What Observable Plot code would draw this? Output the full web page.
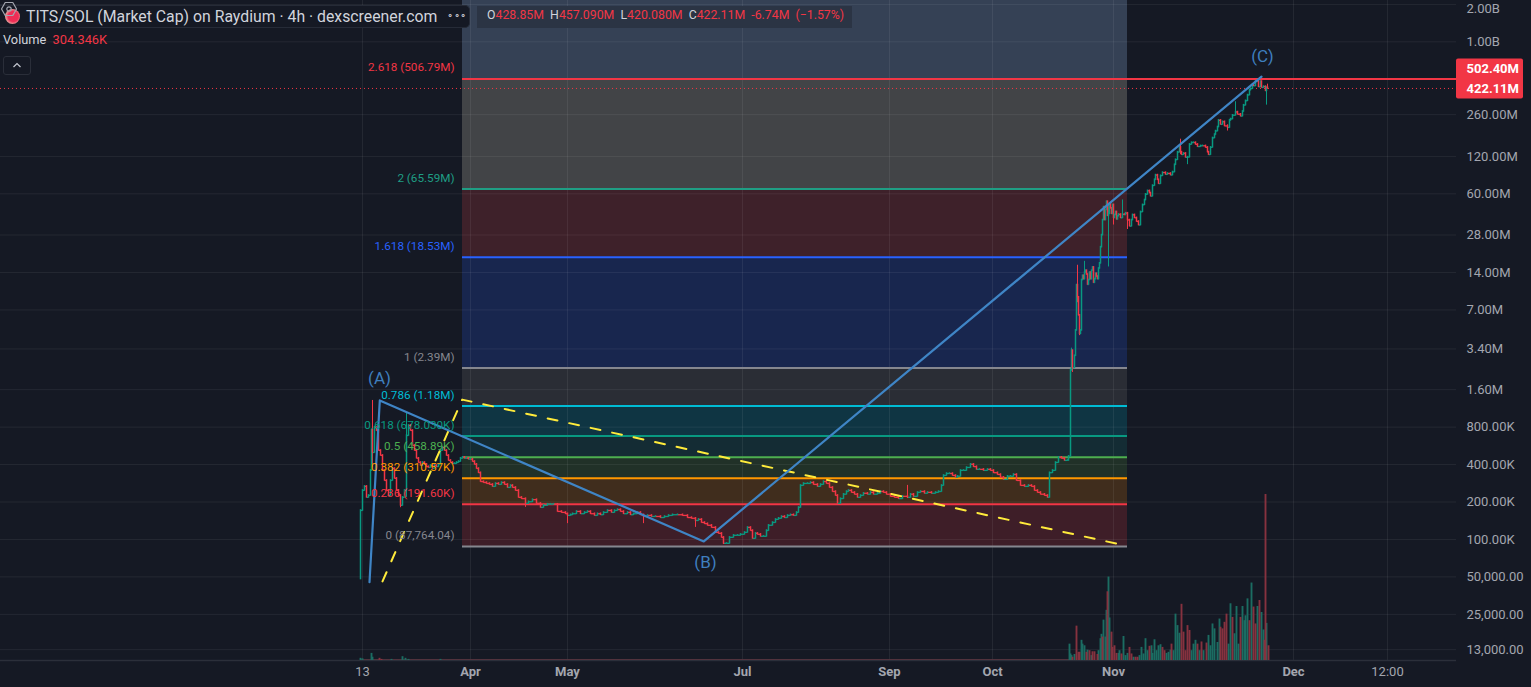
<!DOCTYPE html>
<html>
<head>
<meta charset="utf-8">
<script src="https://cdn.jsdelivr.net/npm/d3@7"></script>
<script src="https://cdn.jsdelivr.net/npm/@observablehq/plot@0.6"></script>
<style>
html,body{margin:0;padding:0;background:#151924;overflow:hidden}
#stage{position:relative;width:1531px;height:687px;font-family:Roboto,"Noto Sans",sans-serif;overflow:hidden}
#stage>svg{position:absolute;left:0;top:0}
.box{position:absolute;box-sizing:border-box;white-space:nowrap;font-size:15.8px}
#titleBox{left:0;top:5px;width:470px;height:23px;background:#151924;border:1px solid #262b37;border-left:0;border-radius:0 5px 5px 0;color:#d1d4dc;padding:1px 0 0 26px}
#icon{position:absolute;left:5px;top:3px;width:15px;height:15px;border-radius:50%;background:radial-gradient(circle at 55% 50%,#ef2d56 45%,#e9b7a8 75%)}
#dots{position:absolute;left:447px;top:3px;font-size:10px;letter-spacing:0.5px;color:#d1d4dc}
#ohlc{left:477px;top:6px;width:375px;height:22px;background:#2b3444;color:#d1d4dc;padding:2px 0 0 10px;font-size:12.3px}
#ohlc b{font-weight:400;color:#f23645}
#vol{left:3px;top:32px;color:#d1d4dc;font-size:12.8px}
#vol b{font-weight:400;color:#f23645;margin-left:3px}
#chev{left:3px;top:56px;width:28px;height:19px;border:1px solid #2a2e39;border-radius:3px;background:#151924}
#gear{position:absolute;left:1489px;top:668px}
</style>
</head>
<body>
<div id="stage">
  <div class="box" id="titleBox"><span id="icon"></span>TITS/SOL (Market Cap) on Raydium · 4h · dexscreener.com<span id="dots">∘∘∘</span></div>
  <div class="box" id="ohlc">O<b>428.85M</b> &nbsp;H<b>457.090M</b> &nbsp;L<b>420.080M</b> &nbsp;C<b>422.11M</b> &nbsp;<b>-6.74M</b> &nbsp;<b>(−1.57%)</b></div>
  <div class="box" id="vol">Volume <b>304.346K</b></div>
  <div class="box" id="chev"><svg width="26" height="17"><path d="M9.5 10 L13 6.5 L16.5 10" fill="none" stroke="#c4c7d0" stroke-width="1.2"/></svg></div>
  <svg id="gear" width="18" height="18"><path d="M9 1.5 L15.5 5.2 V12.8 L9 16.5 L2.5 12.8 V5.2 Z" fill="none" stroke="#a3a6af" stroke-width="1.2" stroke-linejoin="round" transform="rotate(90 9 9)"/><circle cx="9" cy="9" r="2.2" fill="none" stroke="#a3a6af" stroke-width="1.2"/></svg>
</div>
<script>
// ---- axis ticks
const priceTicks = [2e9,1e9,260e6,120e6,60e6,28e6,14e6,7e6,3.4e6,1.6e6,800e3,400e3,200e3,100e3,50e3,25e3,13e3];
const priceTickLabels = ["2.00B","1.00B","260.00M","120.00M","60.00M","28.00M","14.00M","7.00M","3.40M","1.60M","800.00K","400.00K","200.00K","100.00K","50,000.00","25,000.00","13,000.00"];
const monthTickBars = [470,567,742,889,992,1113,1293];
const monthTickLabels = ["Apr","May","Jul","Sep","Oct","Nov","Dec"];
const timeTickBars = [362,1387];
const timeTickLabels = ["13","12:00"];

// ---- Fibonacci levels
const fibRatios = ["2.618","2","1.618","1","0.786","0.618","0.5","0.382","0.236","0"];
const fibValues = [506.79e6,65.59e6,18.53e6,2.39e6,1.18e6,678030,458890,310570,191600,87764.04];
const fibValueText = ["506.79M","65.59M","18.53M","2.39M","1.18M","678.030K","458.89K","310.57K","191.60K","87,764.04"];
const fibColors = ["#f23645","#1f9e84","#2962ff","#85878f","#00bcd4","#089981","#4caf50","#ff9800","#f23645","#85878f"];
const fibZoneFills = ["#354155","#424447","#3e212a","#18264e","#2a2d35","#0f3543","#142c34","#213128","#402d1d","#3e1e28"];

// ---- candles: [bar number, close in thousands]
const launchCandles = [[360,171],[362,248],[364,267],[366,218],[368,226],[370,359],[371,760],[372,500],[374,800],[376,750],[378,520],[380,474],[382,359],[384,298],[386,248],[388,226],[390,298],[392,372],[394,310],[396,248],[398,226],[400,188],[402,218],[404,248],[406,685],[408,825],[410,752],[412,570],[414,520],[416,450],[418,416],[420,394],[422,416],[424,402],[426,385],[428,379],[430,394],[432,372],[434,394],[436,385],[438,402],[440,520],[442,548],[444,520],[446,474],[448,432],[450,416],[452,408],[454,408],[456,416],[458,424],[460,450],[462,458],[464,450],[466,450],[468,442],[470,442]];
const springCandles = [[472,424],[474,402],[476,372],[478,344],[480,292],[483,287],[486,282],[489,277],[492,267],[495,282],[498,277],[501,287],[504,277],[507,262],[510,272],[512,262],[515,248],[518,218],[521,213],[525,195],[528,201],[532,209],[536,195],[540,181],[543,188],[547,192],[550,192],[553,192],[557,168],[561,165],[565,161],[567,156],[570,158],[572,161],[576,168],[580,161],[584,165],[587,168],[590,161],[594,156],[597,161],[600,158],[603,165],[607,171],[611,165],[614,171],[617,174],[620,168],[623,161],[627,165],[630,158],[633,161],[637,165],[640,158],[643,153],[647,156],[651,153],[655,153],[660,150],[664,153],[668,156],[672,158],[677,158],[682,156],[687,150],[691,148],[695,142],[698,145],[701,137],[704,134],[707,130],[711,125],[715,114],[718,112],[721,104],[723,93],[726,93],[729,104]];
const summerCandles = [[733,108],[737,108],[740,110],[744,114],[747,125],[750,118],[752,102],[755,112],[757,110],[760,106],[763,106],[766,118],[768,130],[772,137],[775,145],[778,148],[781,153],[784,150],[787,156],[790,158],[793,156],[796,165],[798,181],[800,272],[803,282],[807,282],[810,287],[813,277],[817,267],[820,277],[823,292],[826,282],[829,262],[832,243],[835,226],[837,195],[840,213],[843,231],[846,243],[848,248],[851,239],[854,231],[857,218],[860,226],[863,235],[867,231],[870,239],[873,231],[877,235],[880,243],[883,239],[886,231],[890,222],[894,218],[898,213],[902,222],[907,218],[910,231],[913,222],[917,239],[920,243],[924,235],[927,239],[931,235],[935,239],[938,243],[941,272],[943,327],[946,339],[949,339],[952,327],[955,316],[957,322],[960,359],[963,359],[966,379],[970,402],[973,385],[976,366],[979,366],[983,359],[987,366],[990,359],[993,344],[997,333],[1000,316],[1003,304],[1007,322],[1010,322],[1013,333],[1016,298],[1020,272],[1024,267],[1028,272],[1031,267],[1034,248],[1037,239],[1040,231],[1044,226],[1047,218]];
const breakoutCandles = [[1049,344],[1052,359],[1055,416],[1058,458],[1061,450],[1064,432],[1067,432],[1068,466],[1070,2290],[1071,3300],[1072,2400],[1074,3000],[1075,4800],[1076,11100],[1077,8850],[1078,6350],[1079,4500],[1080,4800],[1081,12200],[1082,13200],[1083,12400],[1084,14000],[1085,14500],[1086,13500],[1087,11200],[1088,12200],[1089,14000],[1090,12400],[1091,14500],[1092,15400],[1093,11600],[1094,12400],[1095,13700],[1096,13000],[1097,12400],[1098,15100],[1099,16600],[1100,22400],[1101,28000],[1102,37000],[1103,47000],[1104,37000],[1105,44700],[1106,52000],[1107,40000],[1108,41500],[1109,50000],[1110,46000],[1111,41500],[1112,49000],[1113,38500],[1114,40700],[1115,43000],[1116,37500],[1117,39800],[1118,41000],[1120,38500],[1122,41000],[1124,40700],[1125,42000],[1127,37000],[1129,33000],[1131,37000],[1132,40700],[1134,38500],[1136,36000],[1138,33700]];
const rallyCandles = [[1140,43000],[1142,49000],[1144,53600],[1145,59500],[1147,63500],[1149,61000],[1150,57500],[1152,70000],[1154,78000],[1155,85000],[1157,78000],[1158,72500],[1160,84000],[1162,89000],[1165,86000],[1167,87500],[1170,85000],[1172,90000],[1174,103000],[1175,113000],[1177,130000],[1179,142000],[1180,130000],[1181,124000],[1183,127000],[1185,118000],[1187,118500],[1189,150000],[1191,155000],[1193,155000],[1195,150000],[1197,144000],[1200,146000],[1202,146000],[1205,142000],[1207,130000],[1208,124000],[1210,142000],[1212,169000],[1214,180000],[1215,192000],[1217,207000],[1218,234000],[1220,217000],[1222,228000],[1224,211000],[1227,205000],[1229,234000],[1230,240000],[1232,257000],[1235,273000],[1237,262000],[1240,253000],[1242,276000],[1243,310000],[1245,336000],[1247,374000],[1249,410000],[1250,421000],[1252,452000],[1253,443000],[1255,480000],[1257,489000],[1258,435000],[1260,480000],[1261,430000],[1263,437000],[1265,404000],[1266,428850],[1267,422110]];
const firstOpen = 48;

// ---- wicks: [bar number, high, low] in thousands
const candleWicks = [[372,1310,380],[400,218,180],[406,1050,218],[525,213,181],[567,161,134],[643,158,134],[695,148,125],[723,104,91],[907,272,213],[1071,3450,2290],[1072,3300,2200],[1077,16000,8000],[1079,6350,4350],[1084,17200,12400],[1108,50000,15500],[1113,49000,33700],[1122,53600,38500],[1127,42000,31000],[1180,165000,124000],[1187,118500,103000],[1227,215000,192000],[1235,330000,257000],[1266,430000,310000],[1267,457090,420080]];

// ---- volume: [bar number, volume in thousands]
const volumeUp = [[360,4],[362,3],[371,13],[372,6],[391,2],[402,7],[405,4],[408,2],[440,2],[1069,30],[1070,12],[1071,9],[1074,11],[1081,37],[1082,30],[1084,27],[1087,19],[1091,9],[1098,18],[1100,40],[1101,48],[1103,74],[1105,43],[1106,92],[1108,153],[1109,78],[1118,13],[1119,18],[1123,44],[1125,9],[1127,13],[1133,6],[1139,9],[1141,24],[1143,12],[1145,40],[1147,18],[1151,27],[1152,13],[1154,38],[1156,18],[1158,27],[1160,29],[1166,13],[1168,15],[1170,19],[1173,18],[1175,85],[1177,64],[1179,50],[1191,18],[1193,30],[1195,37],[1199,18],[1203,18],[1208,46],[1210,27],[1212,67],[1214,58],[1217,33],[1219,76],[1228,30],[1230,104],[1234,49],[1236,99],[1238,30],[1242,99],[1244,73],[1245,82],[1247,113],[1251,142],[1257,99],[1261,88],[1263,56],[1266,68]];
const volumeDown = [[379,4],[381,2],[1072,6],[1076,63],[1078,15],[1079,15],[1086,15],[1089,18],[1092,16],[1094,16],[1097,11],[1102,43],[1107,126],[1111,52],[1112,24],[1114,27],[1116,13],[1121,12],[1129,24],[1131,12],[1135,6],[1137,6],[1149,26],[1162,24],[1164,18],[1171,30],[1181,103],[1183,52],[1185,18],[1187,64],[1189,55],[1197,30],[1201,34],[1206,32],[1220,61],[1222,58],[1224,70],[1226,85],[1232,79],[1240,79],[1249,73],[1253,98],[1255,67],[1259,110],[1264,37],[1265,304.346],[1268,27]];
const quietVolumeBars = [360,1069];
const quietVolume = 1.6;

// ---- drawings
const waveBars = [369,379.3,703.3,1261];
const waveCaps = [45300,1310000,96400,525700000];
const trendBars = [382,461.7,1116.7];
const trendCaps = [46000,1331000,92300];
const waveLabels = ["(A)","(B)","(C)"];
const waveLabelBars = [379,705,1262];
const waveLabelCaps = [1977000,65300,758000000];
const lastPrice = 422110000;
const lastVolume = 304346;
const topLine = 502400000;

// ---- tables
const GREEN="#089981", RED="#f23645";
const closes=[...launchCandles,...springCandles,...summerCandles,...breakoutCandles,...rallyCandles];
const candles=closes.map(([bar,c],i)=>{
  const open=(i?closes[i-1][1]:firstOpen)*1e3, close=c*1e3;
  return {bar,prevBar:i?closes[i-1][0]:bar,open,close,color:close>=open?GREEN:RED};
});
const colorByBar=new Map(candles.map(d=>[d.bar,d.color]));
const wicks=candleWicks.map(([bar,h,l])=>({bar,high:h*1e3,low:l*1e3,color:colorByBar.get(bar)||RED}));
const fib=fibRatios.map((r,i)=>({r,v:fibValues[i],label:`${r} (${fibValueText[i]})`,color:fibColors[i]}));
const yMax=2.15e9,yMin=10640;
const zones=fibZoneFills.map((fill,i)=>({fill,y2:i?fibValues[i-1]:yMax,y1:fibValues[i]}));
const wave=waveBars.map((x,i)=>({x,y:waveCaps[i]}));
const trend=trendBars.map((x,i)=>({x,y:trendCaps[i]}));
const labelsABC=waveLabels.map((t,i)=>({t,x:waveLabelBars[i],y:waveLabelCaps[i]}));
const priceTickRows=priceTicks.map((v,i)=>({v,label:priceTickLabels[i]}));
const monthRows=monthTickBars.map((x,i)=>({x,label:monthTickLabels[i]}));
const timeRows=timeTickBars.map((x,i)=>({x,label:timeTickLabels[i]}));
const allX=[...monthTickBars,...timeTickBars];
const ZONE_X1=462, ZONE_X2=1127, FRAME=1456, TICK_TEXT_X=1466;
const FONT='Roboto,"Noto Sans",sans-serif';

const price=Plot.plot({
  width:1531,height:687,marginLeft:0,marginRight:75,marginTop:0,marginBottom:27,
  style:{background:"transparent",fontFamily:FONT},
  x:{type:"linear",domain:[0,FRAME],axis:null},
  y:{type:"log",domain:[yMin,yMax],range:[660,0],axis:null},
  marks:[
    Plot.rect(zones,{x1:ZONE_X1,x2:ZONE_X2,y1:"y1",y2:"y2",fill:d=>d.fill}),
    Plot.gridY(priceTicks,{stroke:"#fff",strokeOpacity:0.065}),
    Plot.gridX(allX,{stroke:"#fff",strokeOpacity:0.065}),
    Plot.ruleY([yMin],{stroke:"#2b2f3a",strokeWidth:1.5}),
    Plot.ruleY(fib.slice(1),{y:"v",x1:ZONE_X1,x2:ZONE_X2,stroke:"color",strokeWidth:2}),
    Plot.ruleY([topLine],{x1:ZONE_X1,x2:FRAME,stroke:RED,strokeWidth:2}),
    Plot.ruleY([lastPrice],{x1:0,x2:FRAME,stroke:RED,strokeWidth:1,strokeDasharray:"1 3"}),
    Plot.link(candles,{x1:"prevBar",x2:"bar",y1:"open",y2:"open",stroke:"color",strokeWidth:1.3}),
    Plot.ruleX(wicks,{x:"bar",y1:"low",y2:"high",stroke:"color",strokeWidth:1}),
    Plot.ruleX(candles,{x:"bar",y1:"open",y2:"close",stroke:"color",strokeWidth:1.5,strokeLinecap:"square"}),
    Plot.line(trend,{x:"x",y:"y",stroke:"#ffeb3b",strokeWidth:2,strokeDasharray:"10 12"}),
    Plot.line(wave,{x:"x",y:"y",stroke:"#3f85c6",strokeWidth:2.2}),
    Plot.text(fib,{x:454,y:"v",text:"label",fill:"color",textAnchor:"end",dy:-11,fontSize:11.7}),
    Plot.text(labelsABC,{x:"x",y:"y",text:"t",fill:"#3f7fbf",fontSize:17}),
    Plot.rect([0],{x1:FRAME,x2:1523,y1:348e6,y2:728e6,fill:RED,rx:2}),
    Plot.text([topLine],{x:TICK_TEXT_X,y:d=>d,text:()=>"502.40M",fill:"#fff",fontWeight:"bold",fontSize:13,textAnchor:"start",dy:-10}),
    Plot.text([lastPrice],{x:TICK_TEXT_X,y:d=>d,text:()=>"422.11M",fill:"#fff",fontWeight:"bold",fontSize:13,textAnchor:"start"}),
    Plot.text(priceTickRows.slice(0,1),{x:TICK_TEXT_X,y:"v",text:"label",fill:"#a3a6af",fontSize:13,textAnchor:"start",dy:4}),
    Plot.text(priceTickRows.slice(1),{x:TICK_TEXT_X,y:"v",text:"label",fill:"#a3a6af",fontSize:13,textAnchor:"start"}),
    Plot.text(monthRows,{x:"x",frameAnchor:"bottom",dy:15,text:"label",fill:"#a3a6af",fontSize:13,fontWeight:"bold"}),
    Plot.text(timeRows,{x:"x",frameAnchor:"bottom",dy:15,text:"label",fill:"#a3a6af",fontSize:13})
  ]
});

const volUp=volumeUp.map(([bar,v])=>({bar,v:v*1e3}));
const volDown=volumeDown.map(([bar,v])=>({bar,v:v*1e3}));
const volume=Plot.plot({
  width:1531,height:687,marginLeft:0,marginRight:75,marginTop:0,marginBottom:27,
  style:{background:"transparent",fontFamily:FONT,pointerEvents:"none"},
  x:{type:"linear",domain:[0,FRAME],axis:null},
  y:{type:"linear",domain:[0,lastVolume*660/166],range:[660,0],axis:null},
  marks:[
    Plot.rect([0],{x1:quietVolumeBars[0],x2:quietVolumeBars[1],y1:0,y2:quietVolume*1e3,fill:"#5a3641"}),
    Plot.ruleX(volUp,{x:"bar",y1:0,y2:"v",stroke:"#1b6d62",strokeWidth:1.9}),
    Plot.ruleX(volDown,{x:"bar",y1:0,y2:"v",stroke:"#86323f",strokeWidth:1.9})
  ]
});

const stage=document.getElementById("stage");
stage.insertBefore(volume,stage.firstChild);
stage.insertBefore(price,stage.firstChild);
</script>
</body>
</html>
